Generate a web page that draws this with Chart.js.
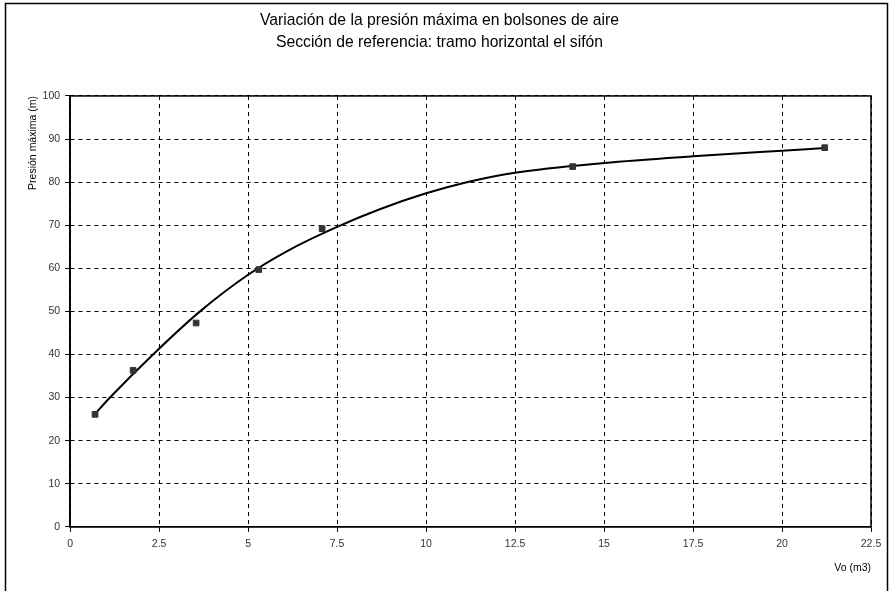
<!DOCTYPE html>
<html>
<head>
<meta charset="utf-8">
<script src="https://cdn.jsdelivr.net/npm/chart.js@4.4.1/dist/chart.umd.min.js"></script>
<style>
  html, body { margin: 0; padding: 0; background: #fff; }
  #wrap { width: 890px; height: 591px; }
</style>
</head>
<body>
<div id="wrap"><canvas id="presionChart" width="890" height="591"></canvas></div>
<script>
// puntos medidos
const vo = [0.7, 1.77, 3.54, 5.3, 7.08, 14.12, 21.2];
const presion = [26.1, 36.3, 47.3, 59.7, 69.2, 83.6, 88.0];

// curva de ajuste
const curvaX = [0.7, 1.12, 2.33, 3.65, 5, 6.1, 7.5, 8.7, 10, 11.2, 12.5, 15, 17.5, 20, 21.2];
const curvaY = [26.2, 30.0, 40.0, 50.0, 58.5, 64.0, 69.6, 73.7, 77.4, 80.1, 82.2, 84.45, 86.0, 87.3, 87.9];

const tituloLineas = [
  "Variación de la presión máxima en bolsones de aire",
  "Sección de referencia: tramo horizontal el sifón",
];

const fontFam = "'Liberation Sans', Arial, sans-serif";

// marco y borde del area
const marco = {
  id: "marco",
  beforeDraw(chart) {
    const ctx = chart.ctx;
    ctx.save();
    ctx.fillStyle = "#fff";
    ctx.fillRect(0, 0, chart.width, chart.height);
    ctx.strokeStyle = "#000";
    ctx.lineWidth = 1.5;
    ctx.strokeRect(5.5, 3.5, 882, 592);
    ctx.restore();
  },
  afterDatasetsDraw(chart) {
    const a = chart.chartArea;
    const ctx = chart.ctx;
    ctx.save();
    ctx.strokeStyle = "#000";
    ctx.lineWidth = 1.5;
    ctx.strokeRect(a.left, a.top, a.right - a.left, a.bottom - a.top);
    ctx.restore();
  },
};

new Chart(document.getElementById("presionChart"), {
  type: "scatter",
  data: {
    datasets: [
      {
        label: "ajuste",
        data: curvaX.map((x, i) => ({ x: x, y: curvaY[i] })),
        showLine: true,
        borderColor: "#000",
        borderWidth: 2,
        pointRadius: 0,
        cubicInterpolationMode: "monotone",
        order: 2,
      },
      {
        label: "Presión máxima",
        data: vo.map((x, i) => ({ x: x, y: presion[i] })),
        pointStyle: "rect",
        pointRadius: 4,
        backgroundColor: "#333",
        borderColor: "#333",
        borderWidth: 1,
        order: 1,
      },
    ],
  },
  options: {
    responsive: false,
    animation: false,
    layout: { padding: { left: 8, right: 19, top: 10, bottom: 13 } },
    plugins: {
      legend: { display: false },
      tooltip: { enabled: false },
      title: {
        display: true,
        text: tituloLineas,
        color: "#000",
        font: { family: fontFam, size: 15.7, weight: "normal", lineHeight: 1.4 },
        padding: { top: 0, bottom: 42 },
      },
    },
    scales: {
      x: {
        type: "linear",
        min: 0,
        max: 22.5,
        ticks: {
          stepSize: 2.5,
          color: "#333",
          font: { family: fontFam, size: 10.5 },
          padding: 6,
        },
        grid: { color: "#000", lineWidth: 1, tickLength: 5, tickColor: "#000" },
        border: { color: "#000", width: 1.5, dash: [4, 4] },
        title: {
          display: true,
          text: "Vo (m3)",
          align: "end",
          color: "#000",
          font: { family: fontFam, size: 10.5 },
          padding: { top: 5 },
        },
      },
      y: {
        min: 0,
        max: 100,
        ticks: {
          stepSize: 10,
          color: "#333",
          font: { family: fontFam, size: 10.5 },
          padding: 5,
        },
        grid: { color: "#000", lineWidth: 1, tickLength: 5, tickColor: "#000" },
        border: { color: "#000", width: 1.5, dash: [4, 4] },
        title: {
          display: true,
          text: "Presión máxima (m)",
          align: "end",
          color: "#000",
          font: { family: fontFam, size: 10.5 },
          padding: { top: 19, bottom: -2 },
        },
      },
    },
  },
  plugins: [marco],
});
</script>
</body>
</html>
